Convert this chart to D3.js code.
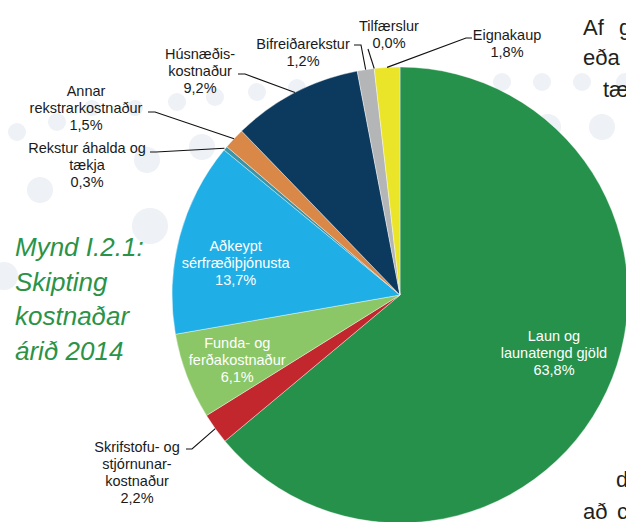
<html>
<head>
<meta charset="utf-8">
<script src="https://d3js.org/d3.v7.min.js"></script>
<style>
  body { margin: 0; background: #fff; }
  text { font-family: "Liberation Sans", Arial, sans-serif; }
</style>
</head>
<body>
<svg id="viz" width="626" height="522"></svg>
<script>
// data: cost split for 2014 (clockwise from 12 o'clock)
var categories = [
  ["Laun og", "launatengd gjöld"],
  ["Skrifstofu- og", "stjórnunar-", "kostnaður"],
  ["Funda- og", "ferðakostnaður"],
  ["Aðkeypt", "sérfræðiþjónusta"],
  ["Rekstur áhalda og", "tækja"],
  ["Annar", "rekstrarkostnaður"],
  ["Húsnæðis-", "kostnaður"],
  ["Bifreiðarekstur"],
  ["Tilfærslur"],
  ["Eignakaup"]
];
var values = [63.8, 2.2, 6.1, 13.7, 0.3, 1.5, 9.2, 1.2, 0.0, 1.8];
var colors = ["#25914a", "#c1272d", "#8bc766", "#1faee5", "#3b95a8",
              "#d98847", "#0c3a5e", "#b3b5b7", "#ffffff", "#ebe52a"];

var captionLines = ["Mynd I.2.1:", "Skipting", "kostnaðar", "árið 2014"];

var svg = d3.select("#viz");
var cx = 400, cy = 295, radius = 228;

// faint background dots of the page layout
var dots = [[17,132,9],[57,122,9],[40,190,13],[92,108,8],[135,108,8],[147,160,13],
            [177,102,9],[202,147,13],[215,97,9],[257,92,9],[297,88,9],[150,226,18],
            [4,276,14],[502,82,9],[542,82,9],[582,82,9],[548,127,13],[602,127,13],[625,82,9]];
svg.append("g").selectAll("circle").data(dots).enter().append("circle")
  .attr("cx", function(d){ return d[0]; })
  .attr("cy", function(d){ return d[1]; })
  .attr("r", function(d){ return d[2]; })
  .attr("fill", "#eef1f5");

var fmt = function(v){ return v.toFixed(1).replace(".", ",") + "%"; };

var pie = d3.pie().sort(null).value(function(d){ return d; });
var arcs = pie(values);
var arc = d3.arc().innerRadius(0).outerRadius(radius);

var g = svg.append("g").attr("transform", "translate(" + cx + "," + cy + ")");
g.selectAll("path").data(arcs).enter().append("path")
  .attr("d", arc)
  .attr("fill", function(d, i){ return colors[i]; })
  .attr("stroke", function(d){ return d.value > 0 ? "#fff" : "none"; })
  .attr("stroke-width", 0.4);

// labels inside the slices
var inner = { 0: [0, -14], 2: [-4, 4], 3: [0, 11] };
var labelArc = d3.arc().innerRadius(170).outerRadius(170);
var lh = 17;
Object.keys(inner).forEach(function(k){
  var i = +k, c = labelArc.centroid(arcs[i]);
  var lines = categories[i].concat([fmt(values[i])]);
  var top = c[1] + inner[k][1] - (lines.length - 1) * lh / 2 + 5;
  var t = g.append("text").attr("text-anchor", "middle").attr("fill", "#fff").attr("font-size", 14.5);
  lines.forEach(function(s, j){
    t.append("tspan").attr("x", c[0] + inner[k][0]).attr("y", top + j * lh).text(s);
  });
});

// labels outside, with leader lines: text centre, first baseline, leader start, elbow
var outer = {
  1: { x: 137, y: 452, p: [186, 449], e: [192, 449] },
  4: { x: 87,  y: 153, p: [150, 152], e: [156, 152] },
  5: { x: 86,  y: 96,  p: [148, 112], e: [155, 112] },
  6: { x: 200, y: 59,  p: [238, 74],  e: [245, 74] },
  7: { x: 303, y: 49,  p: [354, 45],  e: [361, 45] },
  8: { x: 389, y: 31,  p: [368, 49],  e: [368, 49] },
  9: { x: 507, y: 40,  p: [472, 38],  e: [466, 38] }
};
var edgeArc = d3.arc().innerRadius(radius * 2).outerRadius(radius * 2);
Object.keys(outer).forEach(function(k){
  var i = +k, o = outer[k];
  var m = edgeArc.centroid(arcs[i]);   // point on the rim at mid angle
  var end = [cx + m[0] / 2 - (i === 4 ? 1 : 0), cy + m[1] / 2];
  svg.append("polyline")
    .attr("points", [o.p, o.e, end].map(function(p){ return p.join(","); }).join(" "))
    .attr("fill", "none").attr("stroke", "#111").attr("stroke-width", 1.1);
  var lines = categories[i].concat([fmt(values[i])]);
  var t = svg.append("text").attr("text-anchor", "middle").attr("fill", "#1a1a1a").attr("font-size", 14.5);
  lines.forEach(function(s, j){
    t.append("tspan").attr("x", o.x).attr("y", o.y + j * lh).text(s);
  });
});

// figure caption
var cap = svg.append("text").attr("fill", "#2a9347").attr("font-size", 26)
  .attr("font-style", "italic");
captionLines.forEach(function(s, j){
  cap.append("tspan").attr("x", 15).attr("y", 256 + j * 34.7).text(s);
});

// fragments of the surrounding body text (cut by the page edge, as in the source)
var body = [["Af", 583, 35], ["g", 619, 35], ["eða", 583, 65], ["tæ", 603, 97],
            ["d", 616, 487], ["að", 583, 519], ["c", 617, 519]];
svg.append("g").selectAll("text").data(body).enter().append("text")
  .attr("x", function(d){ return d[1]; })
  .attr("y", function(d){ return d[2]; })
  .attr("font-size", 22).attr("fill", "#231f20")
  .text(function(d){ return d[0]; });
</script>
</body>
</html>
